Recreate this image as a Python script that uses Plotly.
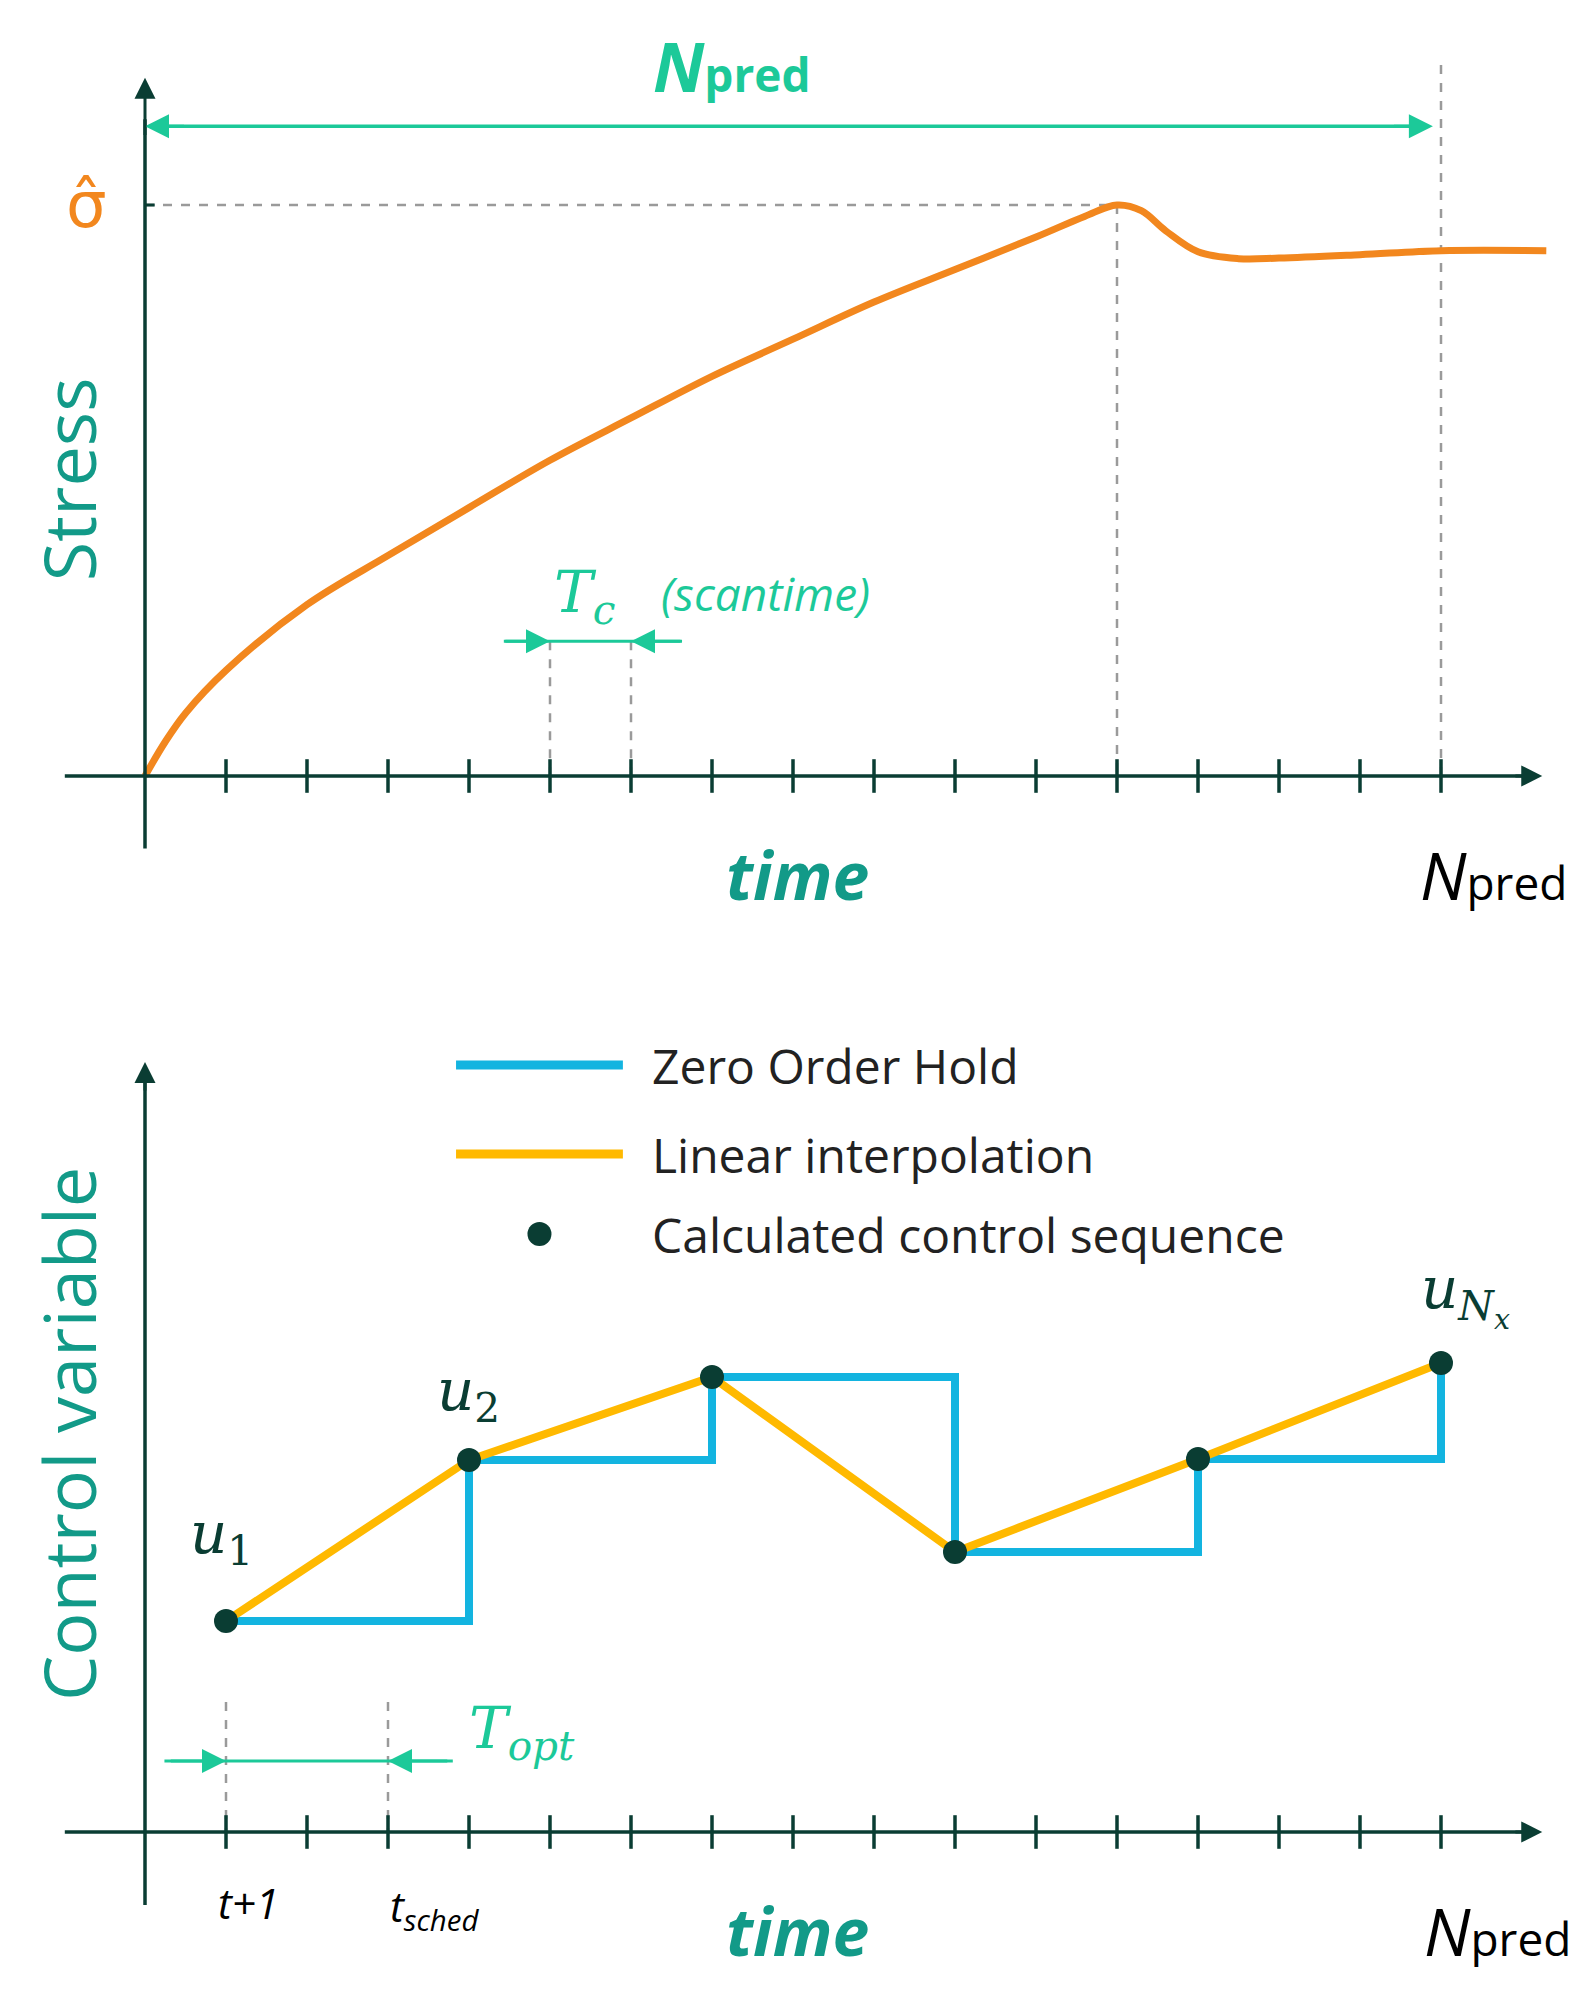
import plotly.graph_objects as go

# top panel: stress curve (x in scan-time ticks, y relative to sigma_hat)
stress_t = [0, 0.25, 0.5, 1, 2, 3, 4, 5, 6, 7, 8, 9, 10, 11, 11.6, 12, 12.3, 12.6, 13, 13.5, 14, 15, 16, 17.3]
stress_v = [0, 0.06, 0.11, 0.185, 0.30, 0.386, 0.47, 0.553, 0.627, 0.70, 0.765, 0.83, 0.887, 0.944, 0.98, 1.0, 0.99, 0.955, 0.918, 0.906, 0.907, 0.913, 0.92, 0.92]

# bottom panel: calculated control sequence
ctrl_t = [1, 4, 7, 10, 13, 16]
ctrl_u = [2.11, 3.72, 4.55, 2.80, 3.73, 4.69]

ticks = list(range(1, 17))

DARK = '#0a3d33'
GREEN = '#1cc999'
TEAL = '#129a88'
ORANGE = '#f2871e'
BLUE = '#13b4e0'
YELLOW = '#ffb900'
GRAY = '#9a9a9a'
FONT = 'Open Sans'

fig = go.Figure()


def seg(x, y, color, width, dash=None, yaxis='y'):
    fig.add_trace(go.Scatter(x=x, y=y, mode='lines', yaxis=yaxis, hoverinfo='skip',
                             line=dict(color=color, width=width, dash=dash)))


def arrow(x, y, ax, ay, color, yref='y', size=1.6, width=3):
    fig.add_annotation(x=x, y=y, ax=ax, ay=ay, xref='x', yref=yref, axref='x', ayref=yref,
                       text='', showarrow=True, arrowhead=2, arrowsize=size,
                       arrowwidth=width, arrowcolor=color)


def label(x, y, text, size, color, yref='y', anchor='center', angle=0, family=FONT):
    fig.add_annotation(x=x, y=y, xref='x', yref=yref, text=text, showarrow=False,
                       xanchor=anchor, textangle=angle,
                       font=dict(size=size, color=color, family=family))


NPRED = '<i>N</i><span style="font-size:46px">pred</span>'

# ---- top panel ----
seg([0, 12], [1, 1], GRAY, 2.5, 'dash')
seg([12, 12], [1, 0], GRAY, 2.5, 'dash')
seg([16, 16], [1.245, 0], GRAY, 2.5, 'dash')
seg([5, 5], [0.236, 0], GRAY, 2.5, 'dash')
seg([6, 6], [0.236, 0], GRAY, 2.5, 'dash')
seg([0, 0.12], [1, 1], DARK, 3)
seg([4.43, 6.63], [0.236, 0.236], GREEN, 3)
arrow(5, 0.236, 4.43, 0.236, GREEN)
arrow(6, 0.236, 6.63, 0.236, GREEN)
seg([0.2, 15.7], [1.138, 1.138], GREEN, 3.5)
arrow(0, 1.138, 0.5, 1.138, GREEN)
arrow(15.9, 1.138, 15.4, 1.138, GREEN)

fig.add_trace(go.Scatter(x=stress_t, y=stress_v, mode='lines', line_shape='spline',
                         line=dict(color=ORANGE, width=7), hoverinfo='skip'))

seg([-0.99, 17.0], [0, 0], DARK, 3.5)
arrow(17.25, 0, 16.9, 0, DARK, size=1.4)
seg([0, 0], [-0.127, 1.15], DARK, 3.5)
arrow(0, 1.223, 0, 1.12, DARK, size=1.4)
fig.add_trace(go.Scatter(x=ticks, y=[0] * len(ticks), mode='markers', hoverinfo='skip',
                         marker=dict(symbol='line-ns', size=24, line=dict(color=DARK, width=3.5))))

label(-0.95, 0.52, 'Stress', 72, TEAL, angle=-90)
label(-0.72, 1.0, '\u03c3\u0302', 64, ORANGE, family='DejaVu Sans')
label(7.25, 1.245, '<b>' + NPRED + '</b>', 68, GREEN)
label(5.42, 0.315, '<i>T<sub>c</sub></i>', 58, GREEN, family='DejaVu Serif')
label(6.35, 0.32, '<i>(scantime)</i>', 46, GREEN, anchor='left')
label(8.05, -0.172, '<b><i>time</i></b>', 66, TEAL)
label(16.65, -0.172, NPRED, 66, 'black')

# ---- bottom panel ----
Y2 = 'y2'
seg([1, 1], [1.3, 0], GRAY, 2.5, 'dash', Y2)
seg([3, 3], [1.3, 0], GRAY, 2.5, 'dash', Y2)
seg([0.24, 3.8], [0.71, 0.71], GREEN, 3, yaxis=Y2)
arrow(1, 0.71, 0.3, 0.71, GREEN, yref=Y2)
arrow(3, 0.71, 3.75, 0.71, GREEN, yref=Y2)

zoh_t = ctrl_t + [ctrl_t[-1]]
zoh_u = [ctrl_u[0]] + ctrl_u
fig.add_trace(go.Scatter(x=zoh_t, y=zoh_u, mode='lines', line_shape='vh', yaxis=Y2,
                         line=dict(color=BLUE, width=8), hoverinfo='skip'))
fig.add_trace(go.Scatter(x=ctrl_t, y=ctrl_u, mode='lines', yaxis=Y2,
                         line=dict(color=YELLOW, width=8), hoverinfo='skip'))
fig.add_trace(go.Scatter(x=ctrl_t, y=ctrl_u, mode='markers', yaxis=Y2,
                         marker=dict(color=DARK, size=24), hoverinfo='skip'))

seg([-0.99, 17.0], [0, 0], DARK, 3.5, yaxis=Y2)
arrow(17.25, 0, 16.9, 0, DARK, yref=Y2, size=1.4)
seg([0, 0], [-0.73, 7.5], DARK, 3.5, yaxis=Y2)
arrow(0, 7.7, 0, 7.4, DARK, yref=Y2, size=1.4)
fig.add_trace(go.Scatter(x=ticks, y=[0] * len(ticks), mode='markers', yaxis=Y2, hoverinfo='skip',
                         marker=dict(symbol='line-ns', size=24, line=dict(color=DARK, width=3.5))))

# legend drawn by hand
seg([3.84, 5.9], [7.67, 7.67], BLUE, 9, yaxis=Y2)
seg([3.84, 5.9], [6.78, 6.78], YELLOW, 9, yaxis=Y2)
fig.add_trace(go.Scatter(x=[4.87], y=[5.98], mode='markers', yaxis=Y2, hoverinfo='skip',
                         marker=dict(color=DARK, size=24)))
label(6.24, 7.67, 'Zero Order Hold', 48, '#222', yref=Y2, anchor='left')
label(6.24, 6.78, 'Linear interpolation', 48, '#222', yref=Y2, anchor='left')
label(6.24, 5.98, 'Calculated control sequence', 48, '#222', yref=Y2, anchor='left')

label(-0.95, 3.98, 'Control variable', 72, TEAL, yref=Y2, angle=-90)
label(0.94, 2.95, '<i>u</i><sub>1</sub>', 58, DARK, yref=Y2, family='DejaVu Serif')
label(3.99, 4.38, '<i>u</i><sub>2</sub>', 58, DARK, yref=Y2, family='DejaVu Serif')
label(16.3, 5.37, '<i>u</i><sub><i>N<sub>x</sub></i></sub>', 58, DARK, yref=Y2, family='DejaVu Serif')
label(4.65, 1.0, '<i>T<sub>opt</sub></i>', 58, GREEN, yref=Y2, family='DejaVu Serif')
label(1.28, -0.7, '<i>t+1</i>', 42, 'black', yref=Y2)
label(3.57, -0.76, '<i>t<sub>sched</sub></i>', 42, 'black', yref=Y2)
label(8.05, -0.98, '<b><i>time</i></b>', 66, TEAL, yref=Y2)
label(16.7, -0.98, NPRED, 66, 'black', yref=Y2)

fig.update_layout(
    width=1591, height=2008,
    margin=dict(l=0, r=0, t=0, b=0),
    plot_bgcolor='white', paper_bgcolor='white',
    showlegend=False,
    xaxis=dict(range=[-137 / 81, (1591 - 137) / 81], visible=False, fixedrange=True),
    yaxis=dict(range=[(768 - 2008) / 571, 768 / 571], visible=False, fixedrange=True),
    yaxis2=dict(range=[(1824 - 2008) / 100, 1824 / 100], visible=False, overlaying='y', fixedrange=True),
)

fig.write_html("out.html")
